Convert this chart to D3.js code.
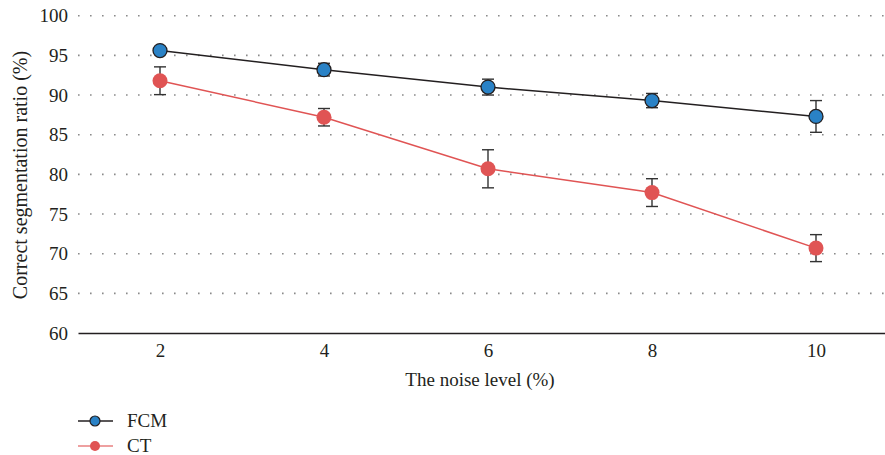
<!DOCTYPE html>
<html>
<head>
<meta charset="utf-8">
<script src="https://cdn.jsdelivr.net/npm/d3@7"></script>
<style>
  body { margin: 0; background: #fff; }
  svg text { font-family: "Liberation Serif", "DejaVu Serif", serif; fill: #231f20; }
</style>
</head>
<body>
<div class="container"></div>
<script>
var noiseLevels = [2, 4, 6, 8, 10];
var fcmValues = [95.6, 93.2, 91.0, 89.3, 87.3];
var fcmErrors = [0.3, 0.8, 1.0, 0.9, 2.0];
var ctValues = [91.8, 87.2, 80.7, 77.7, 70.7];
var ctErrors = [1.75, 1.1, 2.4, 1.75, 1.7];
var yTicks = [60, 65, 70, 75, 80, 85, 90, 95, 100];

var w = 885,
h = 455,
fontFam = '"Liberation Serif", "DejaVu Serif", serif';

var svg = d3.select('.container')
.append('svg')
.attr('width', w)
.attr('height', h);

var xScale = d3.scaleLinear()
.domain([1, 11])
.range([78, 898]);

var yScale = d3.scaleLinear()
.domain([60, 100])
.range([333, 15.7]);

// dotted grid
svg.append('g')
.selectAll('line')
.data(yTicks.filter(d => d > 60))
.enter()
.append('line')
.attr('x1', 78)
.attr('x2', w)
.attr('y1', d => yScale(d))
.attr('y2', d => yScale(d))
.attr('stroke', '#8a8a8a')
.attr('stroke-width', 1.6)
.attr('stroke-dasharray', '1.6,10.4');

// y axis (labels only)
var yAxis = d3.axisLeft(yScale)
.tickValues(yTicks)
.tickSize(0)
.tickPadding(10);

var yAxisGroup = svg.append('g')
.attr('transform', 'translate(78, 0)')
.call(yAxis)
.attr('font-family', fontFam)
.attr('font-size', 19);
yAxisGroup.select('.domain').remove();
yAxisGroup.selectAll('text')
.attr('fill', '#231f20');

// x axis
var xAxis = d3.axisBottom(xScale)
.tickValues(noiseLevels)
.tickSize(0)
.tickPadding(11);

var xAxisGroup = svg.append('g')
.attr('transform', 'translate(0, 333)')
.call(xAxis)
.attr('font-family', fontFam)
.attr('font-size', 19);
xAxisGroup.select('.domain')
.attr('stroke', '#231f20')
.attr('stroke-width', 1.5);
xAxisGroup.selectAll('text')
.attr('fill', '#231f20');

svg.append('text')
.attr('x', 480)
.attr('y', 386)
.attr('text-anchor', 'middle')
.style('font-size', '19px')
.text('The noise level (%)');

svg.append('text')
.attr('transform', 'rotate(-90)')
.attr('x', -175)
.attr('y', 27)
.attr('text-anchor', 'middle')
.style('font-size', '20px')
.text('Correct segmentation ratio (%)');

var line = d3.line()
.x((d, i) => xScale(noiseLevels[i]))
.y(d => yScale(d));

function drawSeries(values, errors, lineColor, fill, stroke, r) {
  var g = svg.append('g');
  g.append('path')
  .datum(values)
  .attr('d', line)
  .attr('fill', 'none')
  .attr('stroke', lineColor)
  .attr('stroke-width', 1.5);

  var eb = g.selectAll('.err')
  .data(values)
  .enter()
  .append('g')
  .attr('stroke', '#333')
  .attr('stroke-width', 1.4);
  eb.append('line')
  .attr('x1', (d, i) => xScale(noiseLevels[i]))
  .attr('x2', (d, i) => xScale(noiseLevels[i]))
  .attr('y1', (d, i) => yScale(d + errors[i]))
  .attr('y2', (d, i) => yScale(d - errors[i]));
  eb.append('line')
  .attr('x1', (d, i) => xScale(noiseLevels[i]) - 6)
  .attr('x2', (d, i) => xScale(noiseLevels[i]) + 6)
  .attr('y1', (d, i) => yScale(d + errors[i]))
  .attr('y2', (d, i) => yScale(d + errors[i]));
  eb.append('line')
  .attr('x1', (d, i) => xScale(noiseLevels[i]) - 6)
  .attr('x2', (d, i) => xScale(noiseLevels[i]) + 6)
  .attr('y1', (d, i) => yScale(d - errors[i]))
  .attr('y2', (d, i) => yScale(d - errors[i]));

  g.selectAll('circle')
  .data(values)
  .enter()
  .append('circle')
  .attr('cx', (d, i) => xScale(noiseLevels[i]))
  .attr('cy', d => yScale(d))
  .attr('r', r)
  .attr('fill', fill)
  .attr('stroke', stroke)
  .attr('stroke-width', stroke == 'none' ? 0 : 1.3);
}

drawSeries(ctValues, ctErrors, '#e05454', '#e05454', 'none', 7.5);
drawSeries(fcmValues, fcmErrors, '#231f20', '#2a82c6', '#231f20', 7);

// legend
var legend = [
  {name: 'FCM', line: '#231f20', fill: '#2a82c6', stroke: '#231f20', y: 421},
  {name: 'CT', line: '#e88080', fill: '#e05454', stroke: 'none', y: 446}
];
var lg = svg.selectAll('.legend')
.data(legend)
.enter()
.append('g');
lg.append('line')
.attr('x1', 78)
.attr('x2', 113)
.attr('y1', d => d.y)
.attr('y2', d => d.y)
.attr('stroke', d => d.line)
.attr('stroke-width', 1.5);
lg.append('circle')
.attr('cx', 95)
.attr('cy', d => d.y)
.attr('r', 5)
.attr('fill', d => d.fill)
.attr('stroke', d => d.stroke)
.attr('stroke-width', d => d.stroke == 'none' ? 0 : 1.2);
lg.append('text')
.attr('x', 127)
.attr('y', d => d.y + 6)
.style('font-size', '19px')
.text(d => d.name);
</script>
</body>
</html>
